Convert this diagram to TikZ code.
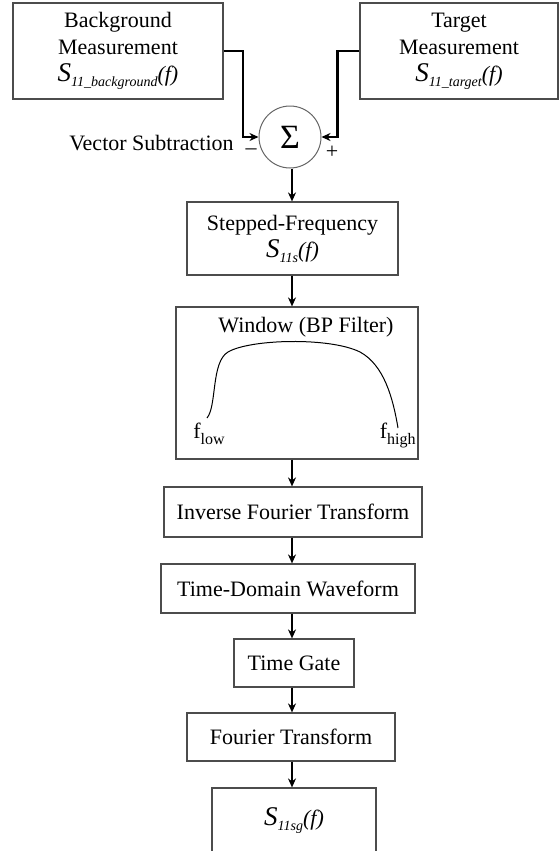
\documentclass[tikz,border=0pt]{standalone}
\usepackage{fontspec}
\setmainfont{Liberation Serif}
\usetikzlibrary{arrows.meta,positioning,calc}

% S-parameter label: big italic S, lowered italic subscript, then (f)
\newcommand\sparm[1]{{\fontsize{13.5}{13.5}\selectfont\itshape S}\raisebox{-2.5pt}{\fontsize{7}{7}\selectfont\itshape #1}\textit{(f)}}

\begin{document}
\begin{tikzpicture}[x=0.5pt,y=-0.5pt,
      card/.style={draw=black!70,line width=0.6pt,inner sep=0pt,align=center,
                   font=\fontsize{11}{13.5}\selectfont},
      flow/.style={-{Stealth[length=4.5pt,width=4pt]},line width=1.1pt},
      lab/.style={font=\fontsize{11}{13.5}\selectfont,inner sep=0pt}]
    \useasboundingbox (0,0) rectangle (560,851);
    \coordinate (col) at (292,0);
    % inputs and summing junction
    \node[card,minimum width=105pt,minimum height=48pt] (bg)  at (118,51)
      {Background\\Measurement\\\sparm{11\_background}};
    \node[card,minimum width=99pt,minimum height=48pt]  (tgt) at (459,51)
      {Target\\Measurement\\\sparm{11\_target}};
    \node[draw=black!60,line width=0.5pt,circle,minimum size=31pt,inner sep=0pt,
          font=\fontsize{17}{17}\selectfont] (sum) at (290,137) {Σ};
    \node[lab,anchor=base east] (vsub) at (234,150) {Vector Subtraction};
    \node[lab] (minus) at (251,152) {–};
    \node[lab] (plus)  at (332,152) {+};
    % processing chain
    \node[card,minimum width=105.5pt,minimum height=36.5pt] (step) at (292.5,238.5)
      {Stepped-Frequency\\\sparm{11s}};
    \node[card,minimum width=121pt,minimum height=76pt] (win) at (297,383) {};
    \node[lab,anchor=base] (wtitle) at (306,332) {Window (BP Filter)};
    \draw[line width=0.5pt] (207,418) .. controls (217,406) and (211,362) .. (228,352)
      .. controls (250,339) and (330,337) .. (360,352)
      .. controls (384,365) and (393,398) .. (398,428);
    \node[lab,anchor=base west] (flow) at (193,438)
      {f\raisebox{-3pt}{\fontsize{8}{8}\selectfont low}};
    \node[lab,anchor=base east] (fhigh) at (416,438)
      {f\raisebox{-3pt}{\fontsize{8}{8}\selectfont high}};
    \node[card,minimum width=129pt,minimum height=25pt]   (ift) at (293,512)   {Inverse Fourier Transform};
    \node[card,minimum width=127pt,minimum height=24.5pt] (tdw) at (288,588.5) {Time-Domain Waveform};
    \node[card,minimum width=60pt,minimum height=24pt]    (tg)  at (294,663)   {Time Gate};
    \node[card,minimum width=104pt,minimum height=24pt]   (ft)  at (291,737)   {Fourier Transform};
    \node[card,minimum width=82pt,minimum height=33pt]    (out) at (294,821)   {\sparm{11sg}};
    % connectors
    \draw[flow] (bg.east) -- ++(19,0) |- (sum.west);
    \draw[flow] (tgt.west) -- ++(-22,0) |- (sum.east);
    \draw[flow] (sum.south -| col) -- (step.north -| col);
    \draw[flow] (step.south -| col) -- (win.north -| col);
    \draw[flow] (win.south -| col) -- (ift.north -| col);
    \draw[flow] (ift.south -| col) -- (tdw.north -| col);
    \draw[flow] (tdw.south -| col) -- (tg.north -| col);
    \draw[flow] (tg.south -| col) -- (ft.north -| col);
    \draw[flow] (ft.south -| col) -- (out.north -| col);
\end{tikzpicture}
\end{document}
